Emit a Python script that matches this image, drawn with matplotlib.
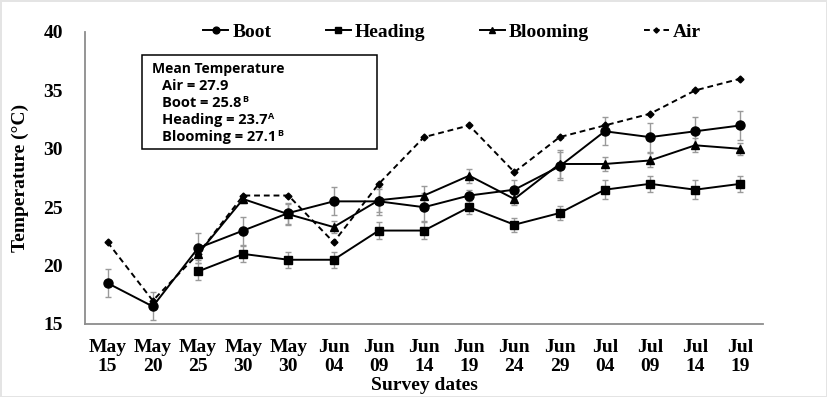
import numpy as np
import matplotlib.pyplot as plt
from matplotlib.patches import Rectangle

dates = ["May\n15", "May\n20", "May\n25", "May\n30", "May\n30", "Jun\n04", "Jun\n09",
         "Jun\n14", "Jun\n19", "Jun\n24", "Jun\n29", "Jul\n04", "Jul\n09", "Jul\n14", "Jul\n19"]

boot = [18.5, 16.5, 21.5, 23.0, 24.5, 25.5, 25.5, 25.0, 26.0, 26.5, 28.5, 31.5, 31.0, 31.5, 32.0]
boot_err = [1.2, 1.2, 1.3, 1.2, 0.9, 1.2, 1.2, 1.2, 0.5, 0.8, 1.2, 1.2, 1.25, 1.2, 1.25]

heading = [np.nan, np.nan, 19.5, 21.0, 20.5, 20.5, 23.0, 23.0, 25.0, 23.5, 24.5, 26.5, 27.0, 26.5, 27.0]
heading_err = [0, 0, 0.7, 0.7, 0.7, 0.7, 0.7, 0.7, 0.6, 0.6, 0.6, 0.8, 0.7, 0.8, 0.7]

blooming = [np.nan, np.nan, 21.0, 25.7, 24.4, 23.3, 25.6, 26.0, 27.7, 25.7, 28.7, 28.7, 29.0, 30.3, 30.0]
blooming_err = [0, 0, 0.5, 0.3, 0.9, 0.5, 1.0, 0.8, 0.6, 0.5, 1.2, 0.6, 0.6, 0.6, 0.5]

air = [22, 17, 21, 26, 26, 22, 27, 31, 32, 28, 31, 32, 33, 35, 36]

# mean temperature box
mean_labels = ["Air = 27.9", "Boot = 25.8", "Heading = 23.7", "Blooming = 27.1"]
mean_letters = ["", "B", "A", "B"]

serif = "Liberation Serif"
sans = "Open Sans"
x = np.arange(len(dates))
W, H = 827, 397

fig = plt.figure(figsize=(8.27, 3.97), dpi=100)
fig.patch.set_edgecolor("#e4e4e4")
fig.patch.set_linewidth(2)
ax = fig.add_axes([85 / W, 1 - 324 / H, 678 / W, 292 / H])

err_kw = dict(fmt="none", ecolor="#9a9a9a", elinewidth=1, capsize=2, capthick=1, zorder=1)
ax.errorbar(x, boot, yerr=boot_err, **err_kw)
ax.errorbar(x, heading, yerr=heading_err, **err_kw)
ax.errorbar(x, blooming, yerr=blooming_err, **err_kw)

ax.plot(x, boot, color="black", lw=1.4, marker="o", ms=6.5, label="Boot", zorder=3)
ax.plot(x, heading, color="black", lw=1.4, marker="s", ms=6, label="Heading", zorder=3)
ax.plot(x, blooming, color="black", lw=1.4, marker="^", ms=6, label="Blooming", zorder=3)
ax.plot(x, air, color="black", lw=1.4, ls=(0, (3, 2)), marker="D", ms=3.5, label="Air", zorder=2)

ax.set_xlim(-0.5, 14.5)
ax.set_ylim(15, 40)
ax.set_yticks([15, 20, 25, 30, 35, 40])
ax.set_xticks(x)
ax.set_xticklabels(dates, fontfamily=serif, fontweight="bold", fontsize=14, linespacing=1.1)
for lab in ax.get_yticklabels():
    lab.set_fontfamily(serif)
    lab.set_fontweight("bold")
    lab.set_fontsize(14)
ax.tick_params(axis="both", length=0)
ax.tick_params(axis="y", pad=16)
ax.tick_params(axis="x", pad=11)

for side in ["top", "right"]:
    ax.spines[side].set_visible(False)
for side in ["left", "bottom"]:
    ax.spines[side].set_color("#8c8c8c")
    ax.spines[side].set_linewidth(1.3)

ax.set_xlabel("Survey dates", fontfamily=serif, fontweight="bold", fontsize=14, labelpad=2)
ax.set_ylabel("Temperature (\u00b0C)", fontfamily=serif, fontweight="bold", fontsize=14)
ax.yaxis.set_label_coords(-56 / 678, 0.5)

fig.legend(loc="center", bbox_to_anchor=(452 / W, 1 - 32 / H), ncol=4, frameon=False,
           prop=dict(family=serif, weight="bold", size=14), handlelength=1.3,
           handletextpad=0.2, columnspacing=2.8, markerscale=0.75)

# box with mean temperatures
fig.add_artist(Rectangle((141.5 / W, 1 - 148.5 / H), 235 / W, 94 / H, transform=fig.transFigure,
                         facecolor="white", edgecolor="black", lw=1.1, zorder=5))
fig.text(151.5 / W, 1 - 72.5 / H, "Mean Temperature", fontfamily=sans, fontweight="bold",
         fontsize=10, va="baseline", zorder=6)
renderer = fig.canvas.get_renderer()
for i, (lab, sup) in enumerate(zip(mean_labels, mean_letters)):
    yb = 1 - (89.5 + 17 * i) / H
    t = fig.text(161.5 / W, yb, lab, fontfamily=sans, fontweight="bold", fontsize=10.5,
                 va="baseline", zorder=6)
    if sup:
        bb = t.get_window_extent(renderer)
        fig.text(bb.x1 / W + 1 / W, yb + 5 / H, sup, fontfamily=sans, fontweight="bold",
                 fontsize=6.5, va="baseline", zorder=6)

fig.savefig("out.png", dpi=100)
